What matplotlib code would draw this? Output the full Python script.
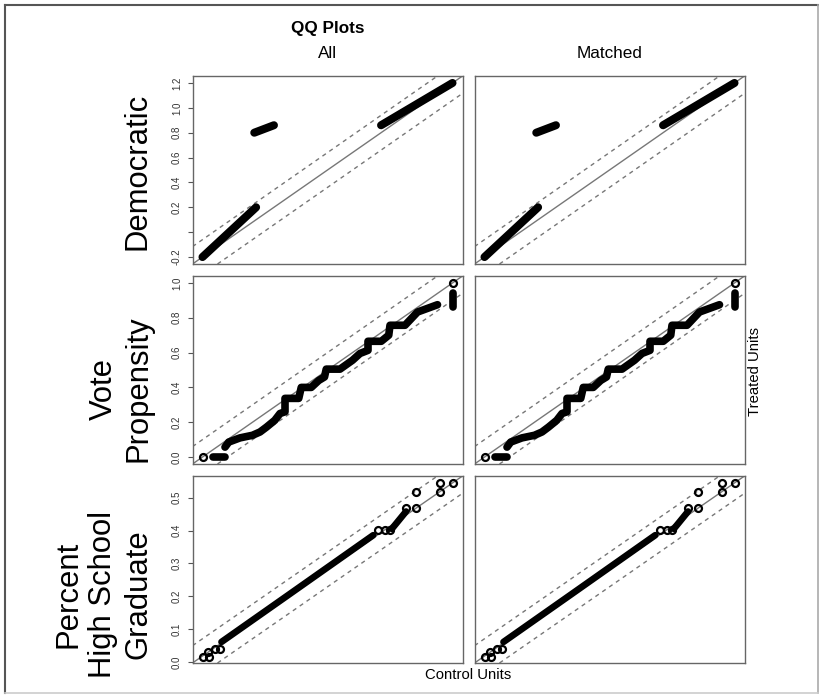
"""
QQ plots of covariate balance: All vs Matched, three covariates
"""
import matplotlib.pyplot as plt
from matplotlib.lines import Line2D

# ---- data ----
row_labels = ['Democratic', 'Vote\nPropensity', 'Percent\nHigh School\nGraduate']
col_titles = ['All', 'Matched']

# Democratic
dem_range = (-0.2, 1.2)
dem_ticks = [-0.2, 0.0, 0.2, 0.4, 0.6, 0.8, 1.0, 1.2]
dem_ticklabels = ['-0.2', '', '0.2', '0.4', '0.6', '0.8', '1.0', '1.2']
dem_seg_x = [[-0.2, 0.1], [0.09, 0.2], [0.8, 1.2]]
dem_seg_y = [[-0.2, 0.2], [0.8, 0.86], [0.86, 1.2]]
dem_pts_x = []
dem_pts_y = []

# Vote propensity
vote_range = (0.0, 1.0)
vote_ticks = [0.0, 0.2, 0.4, 0.6, 0.8, 1.0]
vote_ticklabels = ['0.0', '0.2', '0.4', '0.6', '0.8', '1.0']
vote_seg_x = [
    [0.04, 0.09],
    [0.09, 0.105, 0.15, 0.2, 0.23, 0.256, 0.289, 0.31, 0.33, 0.33, 0.385, 0.395,
     0.435, 0.465, 0.488, 0.495, 0.55, 0.6, 0.63, 0.662, 0.662, 0.715, 0.745,
     0.75, 0.81, 0.86, 0.94],
    [1.0, 1.0],
]
vote_seg_y = [
    [0.0, 0.0],
    [0.057, 0.086, 0.11, 0.125, 0.144, 0.172, 0.211, 0.25, 0.26, 0.337, 0.337, 0.40,
     0.40, 0.44, 0.46, 0.505, 0.505, 0.556, 0.595, 0.613, 0.665, 0.665, 0.70,
     0.757, 0.757, 0.833, 0.875],
    [0.86, 0.94],
]
vote_pts_x = [0.0, 1.0]
vote_pts_y = [0.0, 1.0]

# Percent high school graduate
hs_range = (0.018, 0.545)
hs_ticks = [0.0, 0.1, 0.2, 0.3, 0.4, 0.5]
hs_ticklabels = ['0.0', '0.1', '0.2', '0.3', '0.4', '0.5']
hs_seg_x = [[0.058, 0.2, 0.378], [0.417, 0.447]]
hs_seg_y = [[0.061, 0.205, 0.386], [0.405, 0.458]]
hs_pts_x = [0.018, 0.032, 0.03, 0.044, 0.054, 0.389, 0.402, 0.414,
            0.447, 0.469, 0.469, 0.518, 0.518, 0.546]
hs_pts_y = [0.015, 0.015, 0.03, 0.041, 0.041, 0.403, 0.403, 0.403,
            0.469, 0.469, 0.517, 0.517, 0.545, 0.545]

rows = [
    (dem_range, dem_ticks, dem_ticklabels, dem_seg_x, dem_seg_y, dem_pts_x, dem_pts_y, 5.8),
    (vote_range, vote_ticks, vote_ticklabels, vote_seg_x, vote_seg_y, vote_pts_x, vote_pts_y, 5.5),
    (hs_range, hs_ticks, hs_ticklabels, hs_seg_x, hs_seg_y, hs_pts_x, hs_pts_y, 4.8),
]

# ---- layout (pixels of the 819x695 canvas) ----
W, H = 819, 695
col_px = [(192.5, 462.5), (474.5, 744.5)]
row_px = [(76, 264), (276, 464), (476, 663)]
label_y = [171.5, 389, 594]

plt.rcParams['font.family'] = ['Liberation Sans', 'DejaVu Sans']

fig = plt.figure(figsize=(W / 100, H / 100), dpi=100)


def fx(x):
    return x / W


def fy(y):
    return 1 - y / H


for r, (rng, ticks, tlabels, seg_x, seg_y, pts_x, pts_y, lw) in enumerate(rows):
    lo, hi = rng
    pad = 0.04 * (hi - lo)
    off = 0.1 * (hi - lo)
    for c in range(2):
        x0, x1 = col_px[c]
        y0, y1 = row_px[r]
        ax = fig.add_axes([fx(x0), fy(y1), (x1 - x0) / W, (y1 - y0) / H])
        ax.set_xlim(lo - pad, hi + pad)
        ax.set_ylim(lo - pad, hi + pad)

        ax.axline((0, 0), slope=1, color='#777777', lw=1.0, zorder=1)
        ax.axline((0, off), slope=1, color='#777777', lw=1.0, ls=(0, (3, 3)), zorder=1)
        ax.axline((0, -off), slope=1, color='#777777', lw=1.0, ls=(0, (3, 3)), zorder=1)

        for sx, sy in zip(seg_x, seg_y):
            ax.plot(sx, sy, color='black', lw=lw, solid_capstyle='round',
                    solid_joinstyle='round', zorder=3)
        if pts_x:
            ax.plot(pts_x, pts_y, 'o', ms=5, mfc='none', mec='black', mew=1.6, zorder=4)

        for s in ax.spines.values():
            s.set_color('#666666')
            s.set_linewidth(1.0)
        ax.set_xticks([])
        if c == 0:
            ax.set_yticks(ticks)
            ax.set_yticklabels(tlabels, rotation=90, va='center', fontsize=7, color='#333333')
            ax.tick_params(axis='y', length=3.6, width=0.8, color='#555555', pad=4)
        else:
            ax.set_yticks([])

    fig.text(fx(153), fy(label_y[r]), row_labels[r], rotation=90, ha='right', va='center',
             fontsize=22.3, multialignment='center', linespacing=1.2)

fig.text(fx(327.5), fy(29), 'QQ Plots', ha='center', va='center', fontsize=12.3, fontweight='bold')
fig.text(fx(327.5), fy(53), col_titles[0], ha='center', va='center', fontsize=12.3)
fig.text(fx(609.5), fy(53), col_titles[1], ha='center', va='center', fontsize=12.3)
fig.text(fx(468), fy(675), 'Control Units', ha='center', va='center', fontsize=10.7)
fig.text(fx(755), fy(371), 'Treated Units', ha='center', va='center', rotation=90, fontsize=10.7)

# outer frame
fig.add_artist(Line2D([fx(5), fx(5)], [fy(5), fy(693)], color='#555555', lw=1.5))
fig.add_artist(Line2D([fx(5), fx(818)], [fy(5), fy(5)], color='#555555', lw=1.5))
fig.add_artist(Line2D([fx(818), fx(818)], [fy(5), fy(693)], color='#aaaaaa', lw=1.2))
fig.add_artist(Line2D([fx(5), fx(818)], [fy(693), fy(693)], color='#cccccc', lw=1.2))

plt.savefig('out.png', dpi=100)
plt.close()
